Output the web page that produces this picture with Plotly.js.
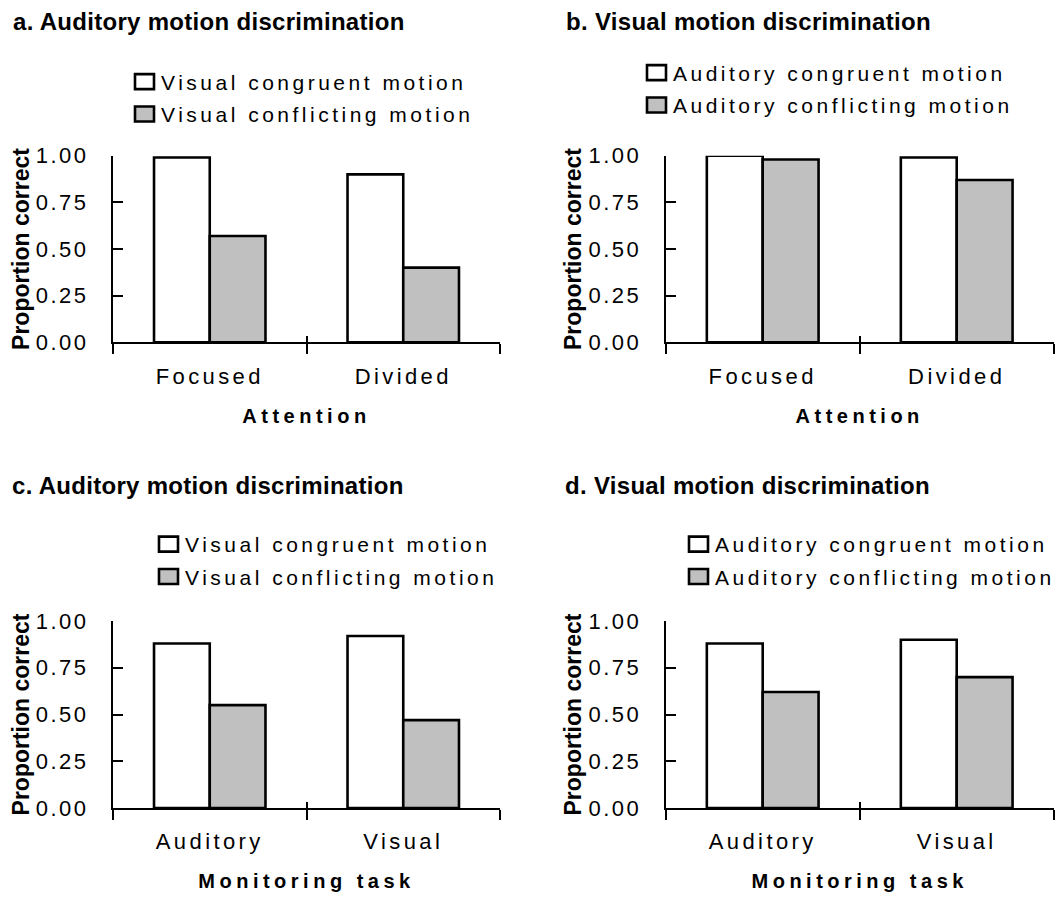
<!DOCTYPE html>
<html>
<head>
<meta charset="utf-8">
<script src="https://cdn.plot.ly/plotly-3.0.1.min.js"></script>
<style>
  body { margin: 0; padding: 0; background: #fff; }
  #chart { width: 1056px; height: 897px; }
  .legendtext, .legend2text, .legend3text, .legend4text { letter-spacing: 3.5px; }
  g.ytick text, g.y2tick text, g.y3tick text, g.y4tick text { letter-spacing: 2.5px; }
  g.xtick text, g.x2tick text, g.x3tick text, g.x4tick text { letter-spacing: 3.4px; }
  .xtitle, .x2title, .x3title, .x4title { letter-spacing: 4.5px; }
  .annotation-text { letter-spacing: 0.3px; }
</style>
</head>
<body>
<div id="chart"></div>
<script>
// ---- data ----
const attentionCats = ['Focused', 'Divided'];
const taskCats = ['Auditory', 'Visual'];

const visualSeriesNames = ['Visual congruent motion', 'Visual conflicting motion'];
const auditorySeriesNames = ['Auditory congruent motion', 'Auditory conflicting motion'];

const aCongruent = [0.99, 0.90];
const aConflicting = [0.57, 0.40];
const bCongruent = [1.00, 0.99];
const bConflicting = [0.98, 0.87];
const cCongruent = [0.88, 0.92];
const cConflicting = [0.55, 0.47];
const dCongruent = [0.88, 0.90];
const dConflicting = [0.62, 0.70];

const panelTitles = [
  'a. Auditory motion discrimination',
  'b. Visual motion discrimination',
  'c. Auditory motion discrimination',
  'd. Visual motion discrimination'
];
const xTitles = ['Attention', 'Attention', 'Monitoring task', 'Monitoring task'];
const yTitle = 'Proportion correct';

// ---- layout helpers ----
const W = 1056, H = 897;
const fx = p => p / W;
const fy = p => 1 - p / H;
const FONT = '"Liberation Sans", Arial, Helvetica, sans-serif';

const panels = [
  {cats: attentionCats, vals: [aCongruent, aConflicting], names: visualSeriesNames,
   xd: [113, 500], yd: [342.3, 155.7], leg: [121, 61.5], title: [11, 22]},
  {cats: attentionCats, vals: [bCongruent, bConflicting], names: auditorySeriesNames,
   xd: [665.7, 1053.7], yd: [342.3, 155.7], leg: [633, 52.5], title: [564, 22]},
  {cats: taskCats, vals: [cCongruent, cConflicting], names: visualSeriesNames,
   xd: [113, 500], yd: [808, 621], leg: [145, 524], title: [10, 485]},
  {cats: taskCats, vals: [dCongruent, dConflicting], names: auditorySeriesNames,
   xd: [665.7, 1053.7], yd: [808, 621], leg: [675, 524], title: [563, 485]}
];
const fills = ['#ffffff', '#c0c0c0'];

const data = [];
const layout = {
  width: W, height: H,
  margin: {l: 0, r: 0, t: 0, b: 0, autoexpand: false},
  paper_bgcolor: '#ffffff', plot_bgcolor: '#ffffff',
  font: {family: FONT, color: '#000000', size: 20},
  barmode: 'group', bargap: 0.424, bargroupgap: 0,
  showlegend: true,
  annotations: []
};

panels.forEach((p, i) => {
  const n = i + 1;
  const xs = n === 1 ? '' : String(n);
  const legendKey = n === 1 ? 'legend' : 'legend' + n;
  p.vals.forEach((v, j) => {
    data.push({
      type: 'bar',
      x: p.cats, y: v, name: p.names[j],
      xaxis: 'x' + xs, yaxis: 'y' + xs,
      legend: legendKey,
      legendgroup: 'g' + n + '_' + j,
      marker: {color: fills[j], line: {color: '#000000', width: 2.6}},
      cliponaxis: false,
      hoverinfo: 'x+y+name'
    });
  });
  // empty helper trace so the overlay tick axis gets drawn
  data.push({
    type: 'scatter', x: [], y: [], xaxis: 'x' + (n + 4), yaxis: 'y' + xs,
    showlegend: false, hoverinfo: 'skip'
  });

  layout['xaxis' + xs] = {
    domain: [fx(p.xd[0]), fx(p.xd[1])],
    anchor: 'y' + xs,
    type: 'category',
    range: [-0.5, 1.5],
    showline: true, linecolor: '#000', linewidth: 2,
    showgrid: false, zeroline: false,
    ticks: 'outside', tickson: 'boundaries', ticklen: 10, tickwidth: 2, tickcolor: '#000',
    tickfont: {family: FONT, size: 22, color: '#000'},
    ticklabelstandoff: 13,
    title: {text: xTitles[i], font: {family: FONT, size: 20, weight: 700, color: '#000'}, standoff: 21}
  };
  // overlay axis for the upper (inside) half of the crossing x ticks
  layout['xaxis' + (n + 4)] = {
    overlaying: 'x' + xs, anchor: 'y' + xs,
    type: 'linear', range: [-0.5, 1.5],
    tickmode: 'array', tickvals: [-0.5, 0.5, 1.5],
    ticks: 'inside', ticklen: 6, tickwidth: 2, tickcolor: '#000',
    showticklabels: false, showline: false, showgrid: false, zeroline: false
  };
  layout['yaxis' + xs] = {
    domain: [fy(p.yd[0]), fy(p.yd[1])],
    anchor: 'x' + xs,
    range: [0, 1],
    tick0: 0, dtick: 0.25, tickformat: '.2f',
    showline: true, linecolor: '#000', linewidth: 2,
    showgrid: false, zeroline: false,
    ticks: 'inside', ticklen: 10, tickwidth: 2, tickcolor: '#000',
    tickfont: {family: FONT, size: 22, color: '#000'},
    ticklabelstandoff: 18,
    title: {text: yTitle, font: {family: FONT, size: 23, weight: 700, color: '#000'}, standoff: 0}
  };
  layout[legendKey] = {
    x: fx(p.leg[0]), y: fy(p.leg[1]), xanchor: 'left', yanchor: 'top',
    xref: 'paper', yref: 'paper',
    bgcolor: 'rgba(0,0,0,0)',
    font: {family: FONT, size: 21, color: '#000'},
    traceorder: 'grouped', tracegroupgap: 2,
    itemclick: false, itemdoubleclick: false
  };
  layout.annotations.push({
    text: panelTitles[i], xref: 'paper', yref: 'paper',
    x: fx(p.title[0]), y: fy(p.title[1]), xanchor: 'left', yanchor: 'middle',
    showarrow: false,
    font: {family: FONT, size: 24, weight: 700, color: '#000'}
  });
});

Plotly.newPlot('chart', data, layout, {displayModeBar: false, staticPlot: true}).then(gd => {
  // enlarge the legend swatches to the reference's wider boxes, closer to the text
  gd.querySelectorAll('.infolayer path').forEach(el => {
    const d = el.getAttribute('d') || '';
    if (d.replace(/\s/g, '') === 'M6,6H-6V-6H6Z') {
      el.setAttribute('d', 'M13,7.5H-6V-7.5H13Z');
    }
  });
});
</script>
</body>
</html>
